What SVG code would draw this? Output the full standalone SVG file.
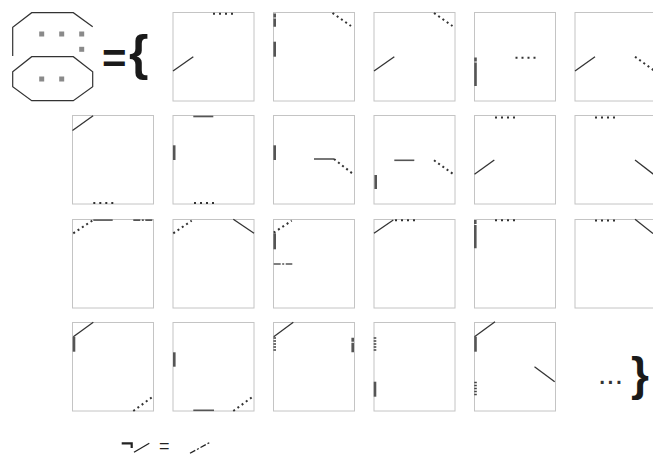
<svg xmlns="http://www.w3.org/2000/svg" width="653" height="455" viewBox="0 0 653 455">
<style>
.box{fill:#fff;stroke:#c4c4c4;stroke-width:1}
.ln{stroke:#333;stroke-width:1.3;fill:none}
.dt{stroke:#333;stroke-width:2;stroke-dasharray:2 4;fill:none}
.dd{stroke:#333;stroke-width:2;stroke-dasharray:2 3.2;fill:none}
.bar{stroke:#555;stroke-width:2.6}
.hl{stroke:#555;stroke-width:1.6}
.dsh{stroke:#555;stroke-width:1.6;stroke-dasharray:7 1.5 2 1.5}
.vdt{stroke:#444;stroke-width:2.6;stroke-dasharray:1.5 1.5}
.bdd{stroke:#555;stroke-width:2.6;stroke-dasharray:4 1 30 1}
.oct{fill:none;stroke:#333;stroke-width:1.2}
.sq{fill:#8a8a8a}
.big{font-family:"Liberation Sans",Arial,sans-serif;font-weight:bold;fill:#1a1a1a}
.dots{font-family:"Liberation Sans",Arial,sans-serif;font-weight:normal;fill:#333}
</style>
<rect width="653" height="455" fill="#fff"/>

<g id="legend-shape">
<polyline class="oct" points="12.7,56 12.7,27.3 31.7,12.7 73.3,12.7 92.7,26.7"/>
<rect class="sq" x="39.2" y="31.5" width="5" height="5"/>
<rect class="sq" x="59.2" y="31.5" width="5" height="5"/>
<rect class="sq" x="79.2" y="31.5" width="5" height="5"/>
<rect class="sq" x="79.2" y="46.8" width="5" height="5"/>
<polygon class="oct" points="12.7,71.7 31.7,56.7 73.3,56.7 92.7,71.7 92.7,86.7 73.3,100.7 31.7,100.7 12.7,86.7"/>
<rect class="sq" x="39.2" y="76.5" width="5" height="5"/>
<rect class="sq" x="59.2" y="76.5" width="5" height="5"/>
<text class="big" x="102" y="73" font-size="42">=</text>
<text class="big" x="129" y="70" font-size="50">{</text>
</g>

<g id="r1c1" transform="translate(173,12.5)">
<rect class="box" width="81" height="88.5"/>
<line class="dt" x1="40" y1="1.2" x2="60" y2="1.2"/>
<line class="ln" x1="0" y1="58.5" x2="20.3" y2="44.2"/>
</g>
<g id="r1c2" transform="translate(273.5,12.5)">
<rect class="box" width="81" height="88.5"/>
<line class="bdd" x1="1.2" y1="1" x2="1.2" y2="14.2"/>
<line class="bar" x1="1.2" y1="29.2" x2="1.2" y2="44.2"/>
<line class="dd" x1="59" y1="0.5" x2="77.5" y2="13.5"/>
</g>
<g id="r1c3" transform="translate(374,12.5)">
<rect class="box" width="81" height="88.5"/>
<line class="ln" x1="0" y1="58.5" x2="20.3" y2="44.2"/>
<line class="dd" x1="60" y1="0.5" x2="78.5" y2="13.5"/>
</g>
<g id="r1c4" transform="translate(474.5,12.5)">
<rect class="box" width="81" height="88.5"/>
<line class="bdd" x1="1" y1="45" x2="1" y2="73.5"/>
<line class="dt" x1="41" y1="45.2" x2="61" y2="45.2"/>
</g>
<g id="r1c5" transform="translate(575,12.5)">
<rect class="box" width="81" height="88.5"/>
<line class="ln" x1="0" y1="58.5" x2="20" y2="44.2"/>
<line class="dd" x1="60" y1="44.2" x2="79" y2="58"/>
</g>

<g id="r2c0" transform="translate(72.5,115.5)">
<rect class="box" width="81" height="88.5"/>
<line class="ln" x1="0" y1="15" x2="20.6" y2="0.3"/>
<line class="dt" x1="20.8" y1="87.5" x2="40.8" y2="87.5"/>
</g>
<g id="r2c1" transform="translate(173,115.5)">
<rect class="box" width="81" height="88.5"/>
<line class="hl" x1="20.3" y1="1" x2="40.3" y2="1"/>
<line class="bar" x1="1.2" y1="29.8" x2="1.2" y2="44.5"/>
<line class="dt" x1="21" y1="87.5" x2="41" y2="87.5"/>
</g>
<g id="r2c2" transform="translate(273.5,115.5)">
<rect class="box" width="81" height="88.5"/>
<line class="bar" x1="1.2" y1="29.8" x2="1.2" y2="44.5"/>
<line class="hl" x1="40.5" y1="43.5" x2="60.5" y2="43.5"/>
<line class="dd" x1="60.5" y1="43.5" x2="79.2" y2="58.2"/>
</g>
<g id="r2c3" transform="translate(374,115.5)">
<rect class="box" width="81" height="88.5"/>
<line class="hl" x1="20.3" y1="44.8" x2="40.3" y2="44.8"/>
<line class="dd" x1="60" y1="44.8" x2="78.7" y2="58.2"/>
<line class="bar" x1="1.7" y1="59.5" x2="1.7" y2="73.5"/>
</g>
<g id="r2c4" transform="translate(474.5,115.5)">
<rect class="box" width="81" height="88.5"/>
<line class="dt" x1="20.5" y1="2" x2="40.5" y2="2"/>
<line class="ln" x1="0" y1="58.8" x2="19.8" y2="44.5"/>
</g>
<g id="r2c5" transform="translate(575,115.5)">
<rect class="box" width="81" height="88.5"/>
<line class="dt" x1="20" y1="2" x2="40" y2="2"/>
<line class="ln" x1="60" y1="44.5" x2="78.5" y2="58.8"/>
</g>

<g id="r3c0" transform="translate(72.5,219.5)">
<rect class="box" width="81" height="88.5"/>
<line class="dd" x1="0.8" y1="13.8" x2="20" y2="1"/>
<line class="hl" x1="20.8" y1="0.6" x2="40.2" y2="0.6"/>
<line class="dsh" x1="60.8" y1="0.6" x2="80.2" y2="0.6"/>
</g>
<g id="r3c1" transform="translate(173,219.5)">
<rect class="box" width="81" height="88.5"/>
<line class="dd" x1="0.3" y1="13.8" x2="18.7" y2="1.2"/>
<line class="ln" x1="60.3" y1="-0.2" x2="81" y2="13.8"/>
</g>
<g id="r3c2" transform="translate(273.5,219.5)">
<rect class="box" width="81" height="88.5"/>
<line class="dd" x1="0.2" y1="13.2" x2="18.2" y2="1.2"/>
<line class="bar" x1="1.2" y1="13.8" x2="1.2" y2="29.8"/>
<line class="dsh" x1="0.2" y1="44.5" x2="18.8" y2="44.5"/>
</g>
<g id="r3c3" transform="translate(374,219.5)">
<rect class="box" width="81" height="88.5"/>
<line class="ln" x1="0" y1="13.8" x2="19.3" y2="0.5"/>
<line class="dt" x1="21" y1="0.7" x2="41" y2="0.7"/>
</g>
<g id="r3c4" transform="translate(474.5,219.5)">
<rect class="box" width="81" height="88.5"/>
<line class="bdd" x1="0.8" y1="0.5" x2="0.8" y2="28.8"/>
<line class="dt" x1="20.5" y1="0.8" x2="40.5" y2="0.8"/>
</g>
<g id="r3c5" transform="translate(575,219.5)">
<rect class="box" width="81" height="88.5"/>
<line class="dt" x1="20" y1="1" x2="40" y2="1"/>
<line class="ln" x1="60" y1="-0.2" x2="78" y2="14"/>
</g>

<g id="r4c0" transform="translate(72.5,322.5)">
<rect class="box" width="81" height="88.5"/>
<line class="ln" x1="0.8" y1="14.2" x2="20.8" y2="-0.2"/>
<line class="bar" x1="1.5" y1="14.2" x2="1.5" y2="29.2"/>
<line class="dd" x1="60.8" y1="88.5" x2="80.2" y2="74.2"/>
</g>
<g id="r4c1" transform="translate(173,322.5)">
<rect class="box" width="81" height="88.5"/>
<line class="bar" x1="1.3" y1="29.8" x2="1.3" y2="44.2"/>
<line class="hl" x1="20.3" y1="87.8" x2="41" y2="87.8"/>
<line class="dd" x1="60.3" y1="88.5" x2="79.7" y2="74.2"/>
</g>
<g id="r4c2" transform="translate(273.5,322.5)">
<rect class="box" width="81" height="88.5"/>
<line class="ln" x1="0.2" y1="14.2" x2="19.8" y2="-0.2"/>
<line class="vdt" x1="1.2" y1="14.8" x2="1.2" y2="29.2"/>
<line class="bdd" x1="79.2" y1="15.2" x2="79.2" y2="29.8"/>
</g>
<g id="r4c3" transform="translate(374,322.5)">
<rect class="box" width="81" height="88.5"/>
<line class="vdt" x1="1" y1="14.8" x2="1" y2="29.2"/>
<line class="bar" x1="1" y1="59.2" x2="1" y2="74.2"/>
</g>
<g id="r4c4" transform="translate(474.5,322.5)">
<rect class="box" width="81" height="88.5"/>
<line class="ln" x1="0" y1="14.2" x2="20.5" y2="-0.8"/>
<line class="bar" x1="1" y1="14.2" x2="1" y2="29.2"/>
<line class="vdt" x1="1" y1="59.2" x2="1" y2="74.2"/>
<line class="ln" x1="60" y1="44.2" x2="80.2" y2="59.2"/>
</g>

<g id="ellipsis">
<text class="dots" x="598" y="384" font-size="30">...</text>
<text class="big" x="631" y="390" font-size="46">}</text>
</g>

<g id="note">
<polyline points="121.7,443.3 131.7,443.3 131.7,448" fill="none" stroke="#222" stroke-width="2.2"/>
<line x1="134" y1="452.3" x2="149.3" y2="443.3" stroke="#222" stroke-width="1.3"/>
<text x="159" y="452" font-family="Liberation Sans,Arial,sans-serif" font-size="18" fill="#222">=</text>
<line x1="190" y1="453.3" x2="210" y2="442.3" stroke="#222" stroke-width="1.3" stroke-dasharray="6 2 2 2"/>
</g>
</svg>
